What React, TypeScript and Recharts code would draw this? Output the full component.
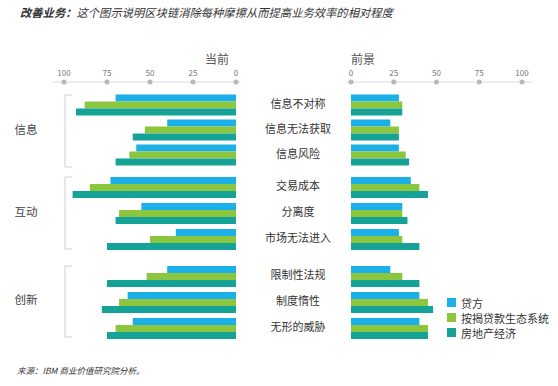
import React from "react";
import { BarChart, Bar, XAxis, YAxis, Legend } from "recharts";

// 类别（按组）
const groupNames = ["信息", "互动", "创新"];
const groupCategories = [
  ["信息不对称", "信息无法获取", "信息风险"],
  ["交易成本", "分离度", "市场无法进入"],
  ["限制性法规", "制度惰性", "无形的威胁"],
];

// 系列名称
const seriesNames = ["贷方", "按揭贷款生态系统", "房地产经济"];
const seriesColors = ["#1cb0e8", "#8cc63e", "#15a398"];

// 当前（9 个类别顺序）
const currentLender = [70, 40, 58, 73, 55, 35, 40, 63, 60];
const currentEcosystem = [88, 53, 62, 85, 68, 50, 52, 68, 70];
const currentRealEstate = [93, 60, 70, 95, 70, 75, 75, 78, 75];

// 前景
const futureLender = [28, 23, 28, 35, 30, 28, 23, 40, 40];
const futureEcosystem = [30, 28, 32, 40, 30, 30, 30, 45, 45];
const futureRealEstate = [30, 28, 34, 45, 33, 40, 40, 48, 45];

const axisTicks = [0, 25, 50, 75, 100];

const FONT = '"Noto Sans CJK SC", "Noto Sans", sans-serif';

// 每组的图表位置
const groupLayout = [
  { top: 62, band: 25, axis: true },
  { top: 174, band: 26, axis: false },
  { top: 263, band: 26, axis: false },
];

const AXIS_H = 20;
const AXIS_PAD = 10.5;

const buildRows = (g: number) =>
  groupCategories[g].map((name, i) => {
    const k = g * 3 + i;
    return {
      name,
      cLender: currentLender[k],
      cEco: currentEcosystem[k],
      cReal: currentRealEstate[k],
      fLender: futureLender[k],
      fEco: futureEcosystem[k],
      fReal: futureRealEstate[k],
    };
  });

const AxisTick = (props: any) => {
  const { x, y, payload } = props;
  return (
    <g>
      <circle cx={x} cy={y} r={2.5} fill="#b8b8b8" />
      <text x={x} y={y - 6} textAnchor="middle" fontSize={8} fill="#777" fontFamily={FONT}>
        {payload.value}
      </text>
    </g>
  );
};

const LabelTick = (props: any) => {
  const { y, payload } = props;
  return (
    <text x={58} y={y} dy={3} textAnchor="middle" fontSize={11} fill="#333" fontFamily={FONT}>
      {payload.value}
    </text>
  );
};

// 图例按系列顺序排列
const renderLegend = (props: any) => {
  const items = [...(props.payload || [])].sort(
    (a: any, b: any) => seriesNames.indexOf(a.value) - seriesNames.indexOf(b.value)
  );
  return (
    <div style={{ fontSize: 11, color: "#333", fontFamily: FONT }}>
      {items.map((p: any) => (
        <div key={p.value} style={{ display: "flex", alignItems: "center", height: 15 }}>
          <span style={{ width: 9, height: 9, background: p.color, marginRight: 5, display: "inline-block" }} />
          {p.value}
        </div>
      ))}
    </div>
  );
};

function GroupChart({ g, side }: { g: number; side: "current" | "future" }) {
  const rows = buildRows(g);
  const { top, band, axis } = groupLayout[g];
  const height = (axis ? AXIS_H + AXIS_PAD : 0) + band * 3;
  const isCurrent = side === "current";
  const keys = isCurrent ? ["cLender", "cEco", "cReal"] : ["fLender", "fEco", "fReal"];

  return (
    <div style={{ position: "absolute", left: isCurrent ? 52 : 240, top }}>
      <BarChart
        width={isCurrent ? 188 : 293}
        height={height}
        data={rows}
        layout="vertical"
        margin={{ top: 0, right: 0, bottom: 0, left: 0 }}
        barGap={0}
      >
        <XAxis
          type="number"
          domain={[0, 100]}
          ticks={axisTicks}
          interval={0}
          reversed={isCurrent}
          orientation="top"
          hide={!axis}
          height={AXIS_H}
          padding={isCurrent ? { left: 12, right: 4 } : { left: 4, right: 11 }}
          axisLine={{ stroke: "#dcdcdc" }}
          tickLine={false}
          tickSize={0}
          tickMargin={0}
          tick={<AxisTick />}
        />
        <YAxis
          type="category"
          dataKey="name"
          hide={isCurrent}
          width={107}
          interval={0}
          axisLine={false}
          tickLine={false}
          tick={<LabelTick />}
          padding={{ top: axis ? AXIS_PAD : 0, bottom: 0 }}
        />
        {keys.map((k, i) => (
          <Bar
            key={k}
            dataKey={k}
            name={seriesNames[i]}
            fill={seriesColors[i]}
            barSize={7}
            isAnimationActive={false}
          />
        ))}
        {!isCurrent && g === 2 && (
          <Legend
            layout="horizontal"
            align="center"
            verticalAlign="middle"
            content={renderLegend}
            wrapperStyle={{ left: 207, top: 32, width: 110 }}
          />
        )}
      </BarChart>
    </div>
  );
}

const brackets = [
  { y1: 95, y2: 167, label: 130 },
  { y1: 177, y2: 249, label: 212 },
  { y1: 266, y2: 337, label: 300 },
];

export default function App() {
  return (
    <div
      style={{
        position: "absolute",
        left: 0,
        top: 0,
        width: 558,
        height: 386,
        background: "#fff",
        fontFamily: FONT,
        overflow: "hidden",
      }}
    >
      <div style={{ position: "absolute", left: 20, top: 4, fontSize: 11.3, fontStyle: "italic", color: "#333", whiteSpace: "nowrap" }}>
        <b>改善业务：</b>这个图示说明区块链消除每种摩擦从而提高业务效率的相对程度
      </div>

      <div style={{ position: "absolute", left: 205, top: 51, fontSize: 12, lineHeight: "15px", color: "#555" }}>当前</div>
      <div style={{ position: "absolute", left: 351, top: 51, fontSize: 12, lineHeight: "15px", color: "#555" }}>前景</div>

      <svg width={558} height={386} style={{ position: "absolute", left: 0, top: 0 }}>
        {brackets.map((b, i) => (
          <g key={i}>
            <path d={`M72,${b.y1} H65 V${b.y2} H72`} fill="none" stroke="#cfcfcf" strokeWidth={1} />
            <text x={26} y={b.label} dy={4} textAnchor="middle" fontSize={11.5} fill="#444" fontFamily={FONT}>
              {groupNames[i]}
            </text>
          </g>
        ))}
      </svg>

      {[0, 1, 2].map((g) => (
        <React.Fragment key={g}>
          <GroupChart g={g} side="current" />
          <GroupChart g={g} side="future" />
        </React.Fragment>
      ))}

      <div style={{ position: "absolute", left: 17, top: 364, fontSize: 8.5, fontStyle: "italic", color: "#333" }}>
        来源：IBM 商业价值研究院分析。
      </div>
    </div>
  );
}
